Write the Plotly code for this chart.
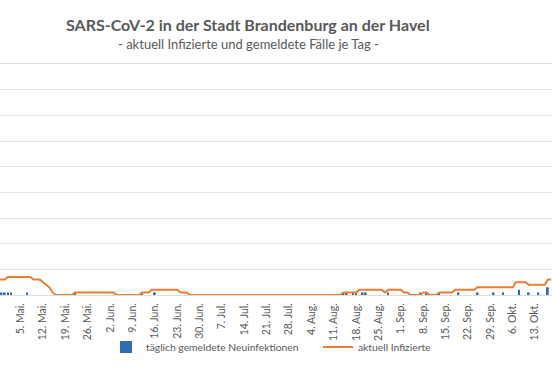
import pandas as pd
import plotly.graph_objects as go

# ---------------- data ----------------
start_date = "2020-04-27"

# aktuell Infizierte (daily, from 27 Apr 2020)
aktuell_infizierte = [
    6, 6, 6, 6, 7, 7, 7,        # 27 Apr - 3 May
    7, 7, 7, 7, 7, 6, 6,        # 4 - 10 May
    6, 5, 4, 3, 1, 0, 0,        # 11 - 17 May
    0, 0, 0, 0, 1, 1, 1,        # 18 - 24 May
    1, 1, 1, 1, 1, 1, 1,        # 25 - 31 May
    1, 1, 1, 0, 0, 0, 0,        # 1 - 7 Jun
    0, 0, 0, 0, 1, 1, 1,        # 8 - 14 Jun
    2, 2, 2, 2, 2, 2, 2,        # 15 - 21 Jun
    2, 2, 1, 1, 1, 0, 0,        # 22 - 28 Jun
    0, 0, 0, 0, 0, 0, 0,        # 29 Jun - 5 Jul
    0, 0, 0, 0, 0, 0, 0,        # 6 - 12 Jul
    0, 0, 0, 0, 0, 0, 0,        # 13 - 19 Jul
    0, 0, 0, 0, 0, 0, 0,        # 20 - 26 Jul
    0, 0, 0, 0, 0, 0, 0,        # 27 Jul - 2 Aug
    0, 0, 0, 0, 0, 0, 0,        # 3 - 9 Aug
    0, 0, 0, 0, 1, 1, 1,        # 10 - 16 Aug
    1, 1, 2, 2, 2, 2, 2,        # 17 - 23 Aug
    2, 2, 2, 1, 2, 2, 2,        # 24 - 30 Aug
    2, 2, 1, 1, 0, 0, 0,        # 31 Aug - 6 Sep
    0, 1, 1, 0, 0, 0, 1,        # 7 - 13 Sep
    1, 1, 1, 1, 2, 2, 2,        # 14 - 20 Sep
    2, 2, 2, 2, 3, 3, 3,        # 21 - 27 Sep
    3, 3, 3, 3, 3, 3, 3,        # 28 Sep - 4 Oct
    3, 3, 5, 5, 5, 5, 4,        # 5 - 11 Oct
    4, 4, 4, 4, 4, 6, 6,        # 12 - 18 Oct
]

# täglich gemeldete Neuinfektionen (days with reports)
neu_dates = [
    "2020-04-29", "2020-04-30", "2020-05-01", "2020-05-02", "2020-05-07",
    "2020-05-22", "2020-06-12", "2020-06-16", "2020-08-14", "2020-08-15",
    "2020-08-17", "2020-08-18", "2020-08-20", "2020-08-21", "2020-08-28",
    "2020-09-07", "2020-09-09", "2020-09-13", "2020-09-19", "2020-09-25",
    "2020-09-30", "2020-10-03", "2020-10-08", "2020-10-11", "2020-10-14",
    "2020-10-17",
]
neu_values = [
    1, 1, 1, 1, 1,
    1, 1, 1, 1, 1,
    1, 1, 1, 1, 1,
    1, 1, 1, 1, 1,
    1, 1, 2, 1, 1,
    3,
]

tick_dates = [
    "2020-04-28", "2020-05-05", "2020-05-12", "2020-05-19", "2020-05-26",
    "2020-06-02", "2020-06-09", "2020-06-16", "2020-06-23", "2020-06-30",
    "2020-07-07", "2020-07-14", "2020-07-21", "2020-07-28", "2020-08-04",
    "2020-08-11", "2020-08-18", "2020-08-25", "2020-09-01", "2020-09-08",
    "2020-09-15", "2020-09-22", "2020-09-29", "2020-10-06", "2020-10-13",
]
tick_labels = [
    "28. Apr.", "5. Mai.", "12. Mai.", "19. Mai.", "26. Mai.",
    "2. Jun.", "9. Jun.", "16. Jun.", "23. Jun.", "30. Jun.",
    "7. Jul.", "14. Jul.", "21. Jul.", "28. Jul.", "4. Aug.",
    "11. Aug.", "18. Aug.", "25. Aug.", "1. Sep.", "8. Sep.",
    "15. Sep.", "22. Sep.", "29. Sep.", "6. Okt.", "13. Okt.",
]

title_text = "SARS-CoV-2 in der Stadt Brandenburg an der Havel"
subtitle_text = "- aktuell Infizierte und gemeldete Fälle je Tag -"

# ---------------- figure ----------------
line_dates = pd.date_range(start_date, periods=len(aktuell_infizierte), freq="D")

TEXT = "#595959"
FONT = "Lato"

fig = go.Figure()
fig.add_trace(go.Bar(
    x=pd.to_datetime(neu_dates), y=neu_values,
    name="täglich gemeldete Neuinfektionen",
    marker=dict(color="#2E6DB4", line=dict(width=0)),
    width=0.55 * 86400000,
))
fig.add_trace(go.Scatter(
    x=line_dates, y=aktuell_infizierte,
    name="aktuell Infizierte", mode="lines",
    line=dict(color="#ED7D31", width=2),
))

fig.update_layout(
    width=552, height=368,
    margin=dict(l=0, r=0, t=64, b=73, autoexpand=False),
    paper_bgcolor="white", plot_bgcolor="white",
    font=dict(family=FONT, color=TEXT, size=10),
    showlegend=True,
    legend=dict(orientation="h", xref="container", yref="container",
                x=106 / 552, xanchor="left", y=1 - 347 / 368, yanchor="middle",
                entrywidth=167, entrywidthmode="pixels",
                font=dict(size=10.3, color=TEXT), bgcolor="rgba(0,0,0,0)"),
    annotations=[
        dict(text=title_text, x=248 / 552, xref="paper", xanchor="center",
             y=1.169, yref="paper", yanchor="middle", showarrow=False,
             font=dict(family=FONT, size=16, color=TEXT, weight="bold")),
        dict(text=subtitle_text, x=248 / 552, xref="paper", xanchor="center",
             y=1.087, yref="paper", yanchor="middle", showarrow=False,
             font=dict(family=FONT, size=13, color=TEXT)),
    ],
)
fig.update_xaxes(
    type="date", range=["2020-04-28 12:45", "2020-10-18 07:00"],
    tickvals=pd.to_datetime(tick_dates), ticktext=tick_labels, tickangle=-90,
    tickfont=dict(size=10.5, color=TEXT), automargin=False, ticklabelstandoff=3,
    showgrid=False, showline=True, mirror=True, linecolor="#dddddd", linewidth=1,
    ticks="", zeroline=False,
)
fig.update_yaxes(
    range=[0, 90], dtick=10, showticklabels=False, automargin=False,
    showgrid=True, gridcolor="#e4e4e4", gridwidth=1, zeroline=False,
)

fig.write_html("out.html", post_script="document.body.style.margin='0';",
               config={"displayModeBar": False})
